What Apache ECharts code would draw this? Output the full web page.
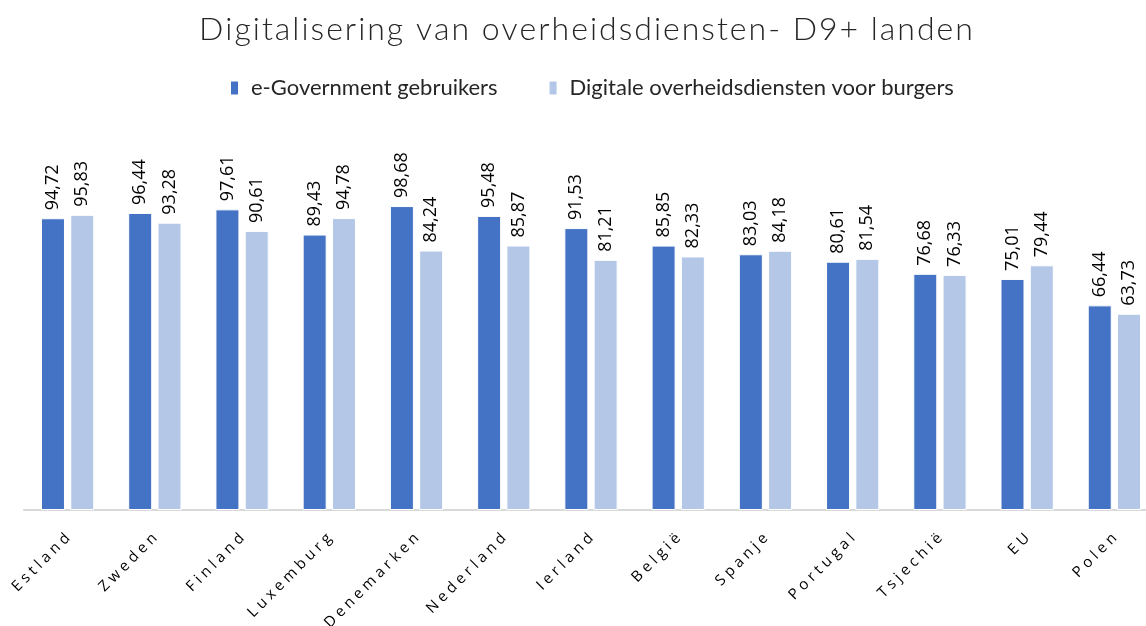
<!DOCTYPE html>
<html>
<head>
<meta charset="utf-8">
<script src="https://cdn.jsdelivr.net/npm/echarts@6/dist/echarts.min.js"></script>
<style>
  html, body { margin: 0; padding: 0; background: #fff; }
  #chart { width: 1146px; height: 626px; }
</style>
</head>
<body>
<div id="chart"></div>
<script>
// landen (categorieën)
var landen = ['Estland', 'Zweden', 'Finland', 'Luxemburg', 'Denemarken', 'Nederland', 'Ierland', 'België', 'Spanje', 'Portugal', 'Tsjechië', 'EU', 'Polen'];
// e-Government gebruikers
var eGovGebruikers = [94.72, 96.44, 97.61, 89.43, 98.68, 95.48, 91.53, 85.85, 83.03, 80.61, 76.68, 75.01, 66.44];
// Digitale overheidsdiensten voor burgers
var digitaleDiensten = [95.83, 93.28, 90.61, 94.78, 84.24, 85.87, 81.21, 82.33, 84.18, 81.54, 76.33, 79.44, 63.73];

var chart = echarts.init(document.getElementById('chart'));

// labels met komma als decimaalteken
function komma(p) {
    return p.value.toFixed(2).replace('.', ',');
}

// letters iets uit elkaar zetten
function spatie(s, sp) {
    return s.split('').join(sp);
}

chart.setOption({
    animation: false,
    title: {
        text: spatie('Digitalisering van overheidsdiensten- D9+ landen', '\u200A'),
        left: 194,
        top: 9,
        textStyle: {
            fontFamily: 'Lato',
            fontWeight: 300,
            fontSize: 32,
            color: '#262626'
        }
    },
    legend: {
        top: 72,
        left: 224,
        itemWidth: 9,
        itemHeight: 15,
        itemGap: 50,
        icon: 'rect',
        textStyle: {
            fontFamily: 'Lato',
            fontSize: 22,
            color: '#262626',
            padding: [0, 0, 0, 7]
        },
        data: ['e-Government gebruikers', 'Digitale overheidsdiensten voor burgers']
    },
    grid: {
        left: 24,
        top: 202,
        width: 1134,
        height: 308,
        containLabel: false,
        outerBoundsMode: 'none'
    },
    xAxis: {
        type: 'category',
        data: landen,
        axisTick: { show: false },
        axisLine: {
            lineStyle: { color: '#d9d9d9', width: 2 }
        },
        axisLabel: {
            rotate: 45,
            interval: 0,
            margin: 26,
            fontFamily: 'Open Sans',
            fontSize: 15,
            color: '#000',
            formatter: function (v) {
                return spatie(v, '\u2009\u200A');
            }
        }
    },
    yAxis: {
        type: 'value',
        min: 0,
        max: 100,
        show: false,
        splitLine: { show: false }
    },
    series: [
        {
            name: 'e-Government gebruikers',
            type: 'bar',
            barWidth: 24,
            barGap: '22%',
            itemStyle: {
                color: '#4472C4',
                borderColor: '#fff',
                borderWidth: 1
            },
            label: {
                show: true,
                position: 'top',
                rotate: 90,
                align: 'left',
                verticalAlign: 'middle',
                distance: 8,
                fontFamily: 'Open Sans',
                fontSize: 18,
                color: '#000',
                formatter: komma
            },
            data: eGovGebruikers
        },
        {
            name: 'Digitale overheidsdiensten voor burgers',
            type: 'bar',
            barWidth: 24,
            itemStyle: {
                color: '#B4C7E7',
                borderColor: '#fff',
                borderWidth: 1
            },
            label: {
                show: true,
                position: 'top',
                rotate: 90,
                align: 'left',
                verticalAlign: 'middle',
                distance: 8,
                fontFamily: 'Open Sans',
                fontSize: 18,
                color: '#000',
                formatter: komma
            },
            data: digitaleDiensten
        }
    ]
});
</script>
</body>
</html>
